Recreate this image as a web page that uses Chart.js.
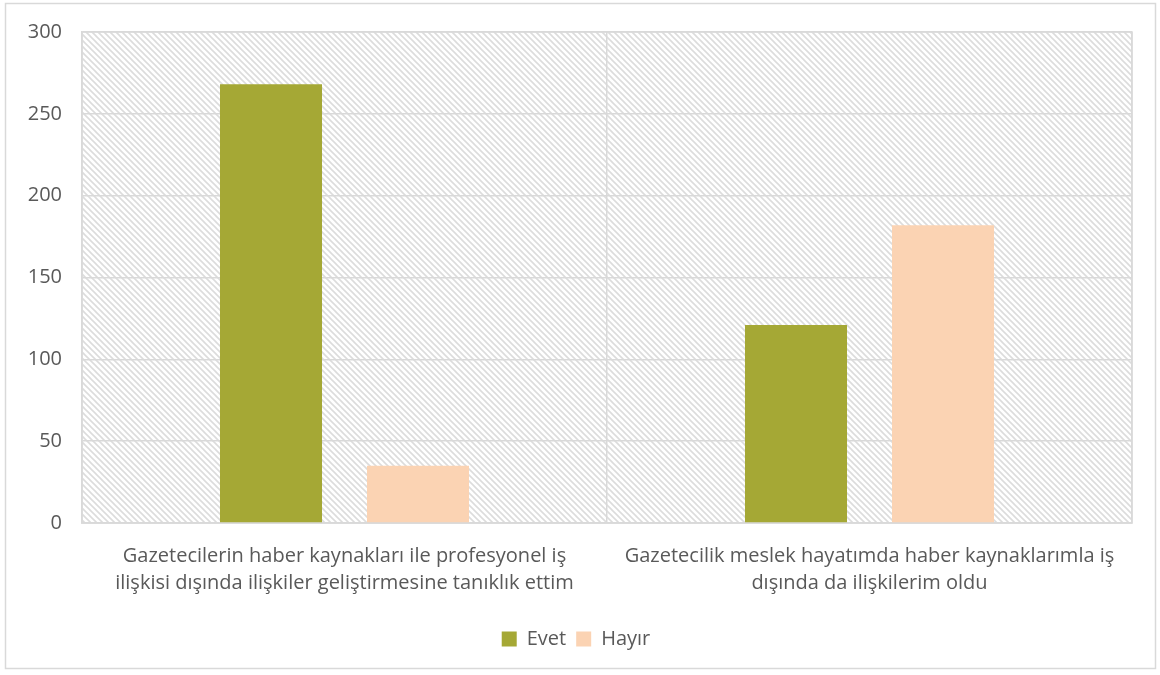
<!DOCTYPE html>
<html>
<head>
<meta charset="utf-8">
<script src="https://cdn.jsdelivr.net/npm/chart.js@4.4.1/dist/chart.umd.min.js"></script>
<style>
  html, body { margin: 0; padding: 0; background: #fff; }
  #wrap { width: 1160px; height: 675px; }
</style>
</head>
<body>
<div id="wrap"><canvas id="chart" width="1160" height="675"></canvas></div>
<script>
/* ---------- data ---------- */
const categories = [
  ['Gazetecilerin haber kaynakları ile profesyonel iş', 'ilişkisi dışında ilişkiler geliştirmesine tanıklık ettim'],
  ['Gazetecilik meslek hayatımda haber kaynaklarımla iş', 'dışında da ilişkilerim oldu']
];
const seriesNames = ['Evet', 'Hayır'];
const evetValues  = [268, 121];
const hayirValues = [35, 182];
const yTicks      = [0, 50, 100, 150, 200, 250, 300];

const FONT  = '"Open Sans", sans-serif';
const GRID  = '#d9d9d9';
const TEXT  = '#595959';

/* ---------- diagonal hatch for the plot area ---------- */
function makeHatch() {
  const size = 6;
  const c = document.createElement('canvas');
  c.width = c.height = size;
  const g = c.getContext('2d');
  g.fillStyle = '#fff';
  g.fillRect(0, 0, size, size);
  g.strokeStyle = '#dcdcdc';
  g.lineWidth = 1.6;
  g.beginPath();
  g.moveTo(-1, -1); g.lineTo(size + 1, size + 1);
  g.moveTo(-1, size - 1); g.lineTo(1, size + 1);
  g.moveTo(size - 1, -1); g.lineTo(size + 1, 1);
  g.stroke();
  return g.createPattern(c, 'repeat');
}

const plotBackground = {
  id: 'plotBackground',
  beforeDraw(chart) {
    const { ctx, chartArea: a, width, height } = chart;
    ctx.save();
    // outer frame
    ctx.strokeStyle = GRID;
    ctx.lineWidth = 1.5;
    ctx.strokeRect(5.5, 3.5, width - 10, height - 10);
    // hatched plot area
    ctx.fillStyle = makeHatch();
    ctx.fillRect(a.left, a.top, a.right - a.left, a.bottom - a.top);
    ctx.lineWidth = 1.5;
    ctx.strokeRect(a.left, a.top, a.right - a.left, a.bottom - a.top);
    ctx.restore();
  }
};

new Chart(document.getElementById('chart').getContext('2d'), {
  type: 'bar',
  data: {
    labels: categories,
    datasets: [
      { label: seriesNames[0], data: evetValues,  backgroundColor: '#a5a835' },
      { label: seriesNames[1], data: hayirValues, backgroundColor: '#fbd3b3' }
    ]
  },
  options: {
    responsive: false,
    animation: false,
    devicePixelRatio: 1,
    layout: { padding: { left: 20, top: 32, right: 28, bottom: 16 } },
    datasets: { bar: { categoryPercentage: 0.56, barPercentage: 0.694 } },
    scales: {
      x: {
        grid: { color: GRID, lineWidth: 1.5, offset: true, drawTicks: false },
        border: { color: GRID, width: 1.5 },
        ticks: { color: TEXT, font: { family: FONT, size: 20, lineHeight: 1.35 }, padding: 20, maxRotation: 0, autoSkip: false },
        afterFit(s) { s.height = 96; }
      },
      y: {
        min: 0, max: 300,
        afterBuildTicks(s) { s.ticks = yTicks.map(v => ({ value: v })); },
        grid: { color: GRID, lineWidth: 1.5, drawTicks: false },
        border: { color: GRID, width: 1.5 },
        ticks: { color: TEXT, font: { family: FONT, size: 20 }, padding: 20 },
        afterFit(s) { s.width = 62; }
      }
    },
    plugins: {
      legend: {
        position: 'bottom',
        labels: { color: TEXT, font: { family: FONT, size: 20 }, boxWidth: 15, boxHeight: 15, padding: 10 }
      },
      tooltip: { enabled: false }
    }
  },
  plugins: [plotBackground]
});
</script>
</body>
</html>
